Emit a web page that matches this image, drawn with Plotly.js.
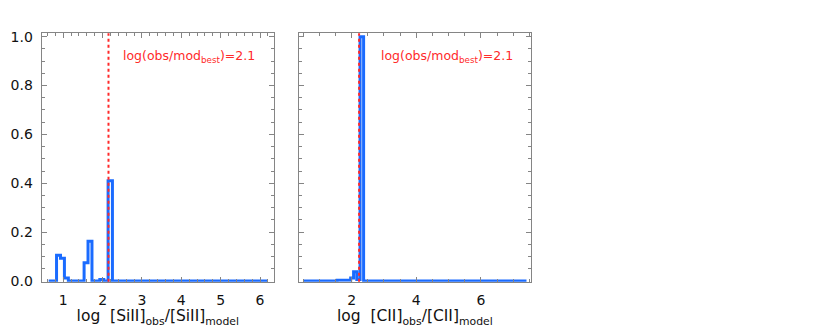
<!DOCTYPE html>
<html>
<head>
<meta charset="utf-8">
<script src="https://cdn.plot.ly/plotly-3.0.1.min.js"></script>
<style>
  body { margin: 0; background: #fff; }
  #plot { width: 830px; height: 332px; }
</style>
</head>
<body>
<div id="plot"></div>
<script>
// Left panel: [SiII] histogram (step edges and heights)
let siEdges = [0.63, 0.83, 0.93, 1.03, 1.13, 1.53, 1.63, 1.73, 1.93, 2.03, 2.14, 2.25, 6.19];
let siFrac  = [0,    0.105, 0.093, 0.012, 0,  0.075, 0.163, 0,  0.006, 0,  0.41, 0,    0];
let siBest = 2.15;

// Right panel: [CII] histogram
let ciiEdges = [0.52, 1.55, 1.97, 2.06, 2.16, 2.26, 2.37, 7.41];
let ciiFrac  = [0,    0.003, 0.012, 0.038, 0.006, 1.0, 0,   0];
let ciiBest = 2.23;

let bestLabel = 'log(obs/mod<sub>best</sub>)=2.1';

const blue = '#1a6bff';
const red = '#ff2a2a';
const gray = '#858585';
const font = 'DejaVu Sans, Verdana, sans-serif';

function stepTrace(x, y, xa, ya) {
    return {
        x: x, y: y, xaxis: xa, yaxis: ya,
        mode: 'lines', type: 'scatter',
        line: { shape: 'hv', color: blue, width: 3 },
        hoverinfo: 'skip', showlegend: false
    };
}

// common axis styling, IDL-like box with inward ticks
function axisBase(extra) {
    return Object.assign({
        showline: true, linecolor: gray, linewidth: 1, mirror: 'allticks',
        ticks: 'inside', ticklen: 5, tickcolor: gray, tickwidth: 1,
        showgrid: false, zeroline: false, ticklabelstandoff: 5,
        tickfont: { family: font, size: 14, color: '#111' }
    }, extra);
}

let layout = {
    width: 830, height: 332,
    margin: { l: 0, r: 0, t: 0, b: 0 },
    paper_bgcolor: '#fff', plot_bgcolor: '#fff',
    showlegend: false,
    xaxis: axisBase({
        domain: [0.0502, 0.3301], range: [0.452, 6.355],
        dtick: 1, tick0: 0, anchor: 'y',
        minor: { dtick: 0.2, ticklen: 3, tickcolor: gray, ticks: 'inside' },
        title: { text: 'log\u00a0\u00a0[SiII]<sub>obs</sub>/[SiII]<sub>model</sub>',
                 font: { family: font, size: 15.5, color: '#111' }, standoff: 3 }
    }),
    yaxis: axisBase({
        domain: [0.1515, 0.8997], range: [-0.003, 1.014],
        dtick: 0.2, tickformat: '.1f', anchor: 'x',
        minor: { dtick: 0.05, ticklen: 3, tickcolor: gray, ticks: 'inside' }
    }),
    xaxis2: axisBase({
        domain: [0.3602, 0.6394], range: [0.37, 7.54],
        dtick: 2, tick0: 0, anchor: 'y2',
        minor: { dtick: 0.5, ticklen: 3, tickcolor: gray, ticks: 'inside' },
        title: { text: 'log\u00a0\u00a0[CII]<sub>obs</sub>/[CII]<sub>model</sub>',
                 font: { family: font, size: 15.5, color: '#111' }, standoff: 3 }
    }),
    yaxis2: axisBase({
        domain: [0.1515, 0.8997], range: [-0.003, 1.014],
        dtick: 0.2, anchor: 'x2', showticklabels: false,
        minor: { dtick: 0.05, ticklen: 3, tickcolor: gray, ticks: 'inside' }
    }),
    shapes: [
        { type: 'line', xref: 'x', yref: 'y domain', x0: siBest, x1: siBest, y0: 0, y1: 1,
          line: { color: red, width: 2, dash: 'dot' } },
        { type: 'line', xref: 'x2', yref: 'y2 domain', x0: ciiBest, x1: ciiBest, y0: 0, y1: 1,
          line: { color: red, width: 2, dash: 'dot' } }
    ],
    annotations: [
        { xref: 'x', yref: 'y', x: 2.48, y: 0.918, xanchor: 'left', yanchor: 'middle',
          text: bestLabel, showarrow: false, font: { family: font, size: 12.5, color: red } },
        { xref: 'x2', yref: 'y2', x: 2.85, y: 0.918, xanchor: 'left', yanchor: 'middle',
          text: bestLabel, showarrow: false, font: { family: font, size: 12.5, color: red } }
    ]
};

let data = [
    stepTrace(siEdges, siFrac, 'x', 'y'),
    stepTrace(ciiEdges, ciiFrac, 'x2', 'y2')
];

Plotly.newPlot('plot', data, layout, { staticPlot: true });
</script>
</body>
</html>
